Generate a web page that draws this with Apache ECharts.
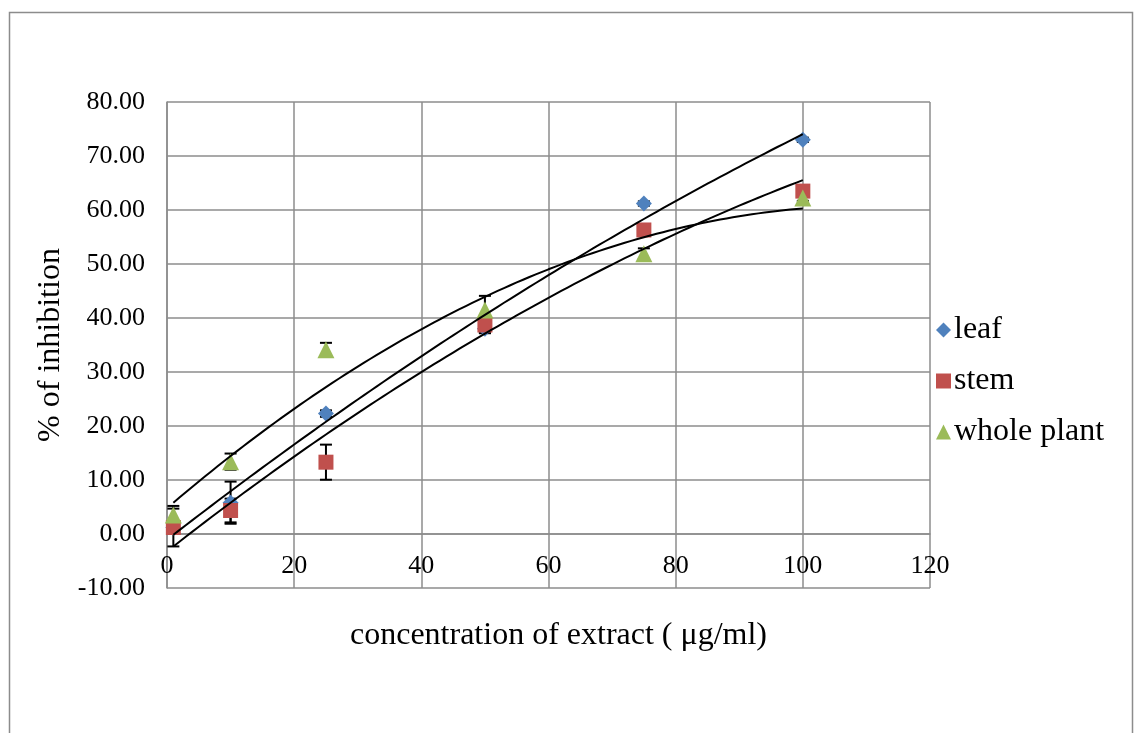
<!DOCTYPE html>
<html>
<head>
<meta charset="utf-8">
<script src="https://cdn.jsdelivr.net/npm/echarts@6/dist/echarts.min.js"></script>
<style>
html,body{margin:0;padding:0;background:#fff;}
#chart{width:1136px;height:733px;}
</style>
</head>
<body>
<div id="chart"></div>
<script>
const xValues = [1, 10, 25, 50, 75, 100];
const leaf = [1.2, 5.8, 22.3, 38.0, 61.2, 73.0];
const leafErr = [0.8, 3.9, 0.6, 0.8, 0.4, 0.4];
const stem = [1.2, 4.35, 13.3, 38.7, 56.3, 63.5];
const stemErr = [3.5, 2.2, 3.25, 1.5, 0.6, 0.6];
const wholePlant = [3.5, 13.4, 34.1, 41.5, 51.9, 62.2];
const wholePlantErr = [1.7, 1.5, 1.3, 2.6, 1.0, 0.5];
const seriesNames = ['leaf', 'stem', 'whole plant'];
const xTicks = [0, 120, 20];
const yTicks = [-10, 80, 10];

const FONT = '"Liberation Serif", "Times New Roman", serif';
const colors = ['#4F81BD', '#C0504D', '#9BBB59'];
const symbols = ['diamond', 'rect', 'triangle'];
const symbolSizes = [16, 15, 17];

function polyfit2(xs, ys) {
  // least-squares quadratic fit y = a + b x + c x^2
  let s = [0,0,0,0,0], t = [0,0,0];
  for (let i = 0; i < xs.length; i++) {
    let p = 1;
    for (let k = 0; k < 5; k++) { s[k] += p; if (k < 3) t[k] += p * ys[i]; p *= xs[i]; }
  }
  const M = [[s[0], s[1], s[2], t[0]], [s[1], s[2], s[3], t[1]], [s[2], s[3], s[4], t[2]]];
  for (let i = 0; i < 3; i++) {
    let piv = i;
    for (let r = i + 1; r < 3; r++) if (Math.abs(M[r][i]) > Math.abs(M[piv][i])) piv = r;
    [M[i], M[piv]] = [M[piv], M[i]];
    for (let r = 0; r < 3; r++) {
      if (r === i) continue;
      const f = M[r][i] / M[i][i];
      for (let c = i; c < 4; c++) M[r][c] -= f * M[i][c];
    }
  }
  return [M[0][3] / M[0][0], M[1][3] / M[1][1], M[2][3] / M[2][2]];
}

function trendData(ys) {
  const co = polyfit2(xValues, ys);
  const out = [];
  const x0 = xValues[0], x1 = xValues[xValues.length - 1];
  for (let x = x0; x <= x1; x += 1) out.push([x, co[0] + co[1] * x + co[2] * x * x]);
  return out;
}

const allY = [leaf, stem, wholePlant];
const allErr = [leafErr, stemErr, wholePlantErr];

const series = [];
allY.forEach((ys, i) => {
  series.push({
    name: seriesNames[i] + '_err',
    type: 'custom',
    z: 3,
    silent: true,
    data: xValues.map((x, j) => [x, ys[j], allErr[i][j]]),
    renderItem: function (params, api) {
      const x = api.value(0), y = api.value(1), e = api.value(2);
      const top = api.coord([x, y + e]);
      const bot = api.coord([x, y - e]);
      const hw = 6;
      const st = { stroke: '#000', lineWidth: 2 };
      return {
        type: 'group',
        children: [
          { type: 'line', shape: { x1: top[0], y1: top[1], x2: bot[0], y2: bot[1] }, style: st },
          { type: 'line', shape: { x1: top[0] - hw, y1: top[1], x2: top[0] + hw, y2: top[1] }, style: st },
          { type: 'line', shape: { x1: bot[0] - hw, y1: bot[1], x2: bot[0] + hw, y2: bot[1] }, style: st }
        ]
      };
    }
  });
});
allY.forEach((ys, i) => {
  series.push({
    name: seriesNames[i],
    type: 'scatter',
    z: 4 + i,
    symbol: symbols[i],
    symbolSize: symbolSizes[i],
    itemStyle: { color: colors[i], opacity: 1 },
    data: xValues.map((x, j) => [x, ys[j]])
  });
});
allY.forEach((ys, i) => {
  series.push({
    name: seriesNames[i] + '_trend',
    type: 'line',
    z: 8,
    silent: true,
    showSymbol: false,
    symbol: 'none',
    smooth: false,
    lineStyle: { color: '#000', width: 2 },
    data: trendData(ys)
  });
});

const chart = echarts.init(document.getElementById('chart'), null, { renderer: 'canvas' });
chart.setOption({
  animation: false,
  backgroundColor: '#fff',
  textStyle: { fontFamily: FONT },
  graphic: [{
    type: 'rect',
    left: 7, top: 10,
    shape: { width: 1123, height: 760 },
    style: { fill: 'none', stroke: '#8c8c8c', lineWidth: 1.5 },
    silent: true, z: -1
  }],
  grid: { left: 167, top: 102, right: 206, bottom: 145, containLabel: false },
  legend: {
    orient: 'vertical',
    left: 931,
    top: 308,
    itemWidth: 15,
    itemHeight: 15,
    itemGap: 17,
    data: seriesNames.map((n, i) => ({ name: n, icon: symbols[i] })),
    textStyle: { fontFamily: FONT, fontSize: 32, color: '#000', lineHeight: 34, padding: [0, 0, 0, -2] },
    selectedMode: false
  },
  xAxis: {
    type: 'value',
    min: xTicks[0], max: xTicks[1], interval: xTicks[2],
    offset: -54,
    name: 'concentration of extract ( μg/ml)',
    nameLocation: 'middle',
    nameGap: 86,
    nameTextStyle: { fontFamily: FONT, fontSize: 32, color: '#000', padding: [0, 0, 0, 20] },
    axisLine: { show: true, onZero: false, lineStyle: { color: '#8c8c8c', width: 1.5 } },
    axisTick: { show: false },
    axisLabel: { fontFamily: FONT, fontSize: 26, color: '#000', margin: 19 },
    splitLine: { show: true, lineStyle: { color: '#8c8c8c', width: 1.5 } }
  },
  yAxis: {
    type: 'value',
    min: yTicks[0], max: yTicks[1], interval: yTicks[2],
    name: '% of inhibition',
    nameLocation: 'middle',
    nameGap: 98,
    nameRotate: 90,
    nameTextStyle: { fontFamily: FONT, fontSize: 32, color: '#000' },
    axisLine: { show: true, lineStyle: { color: '#8c8c8c', width: 1.5 } },
    axisTick: { show: false },
    axisLabel: { fontFamily: FONT, fontSize: 26, color: '#000', margin: 22, formatter: v => v.toFixed(2) },
    splitLine: { show: true, lineStyle: { color: '#8c8c8c', width: 1.5 } }
  },
  series: series
});
</script>
</body>
</html>
